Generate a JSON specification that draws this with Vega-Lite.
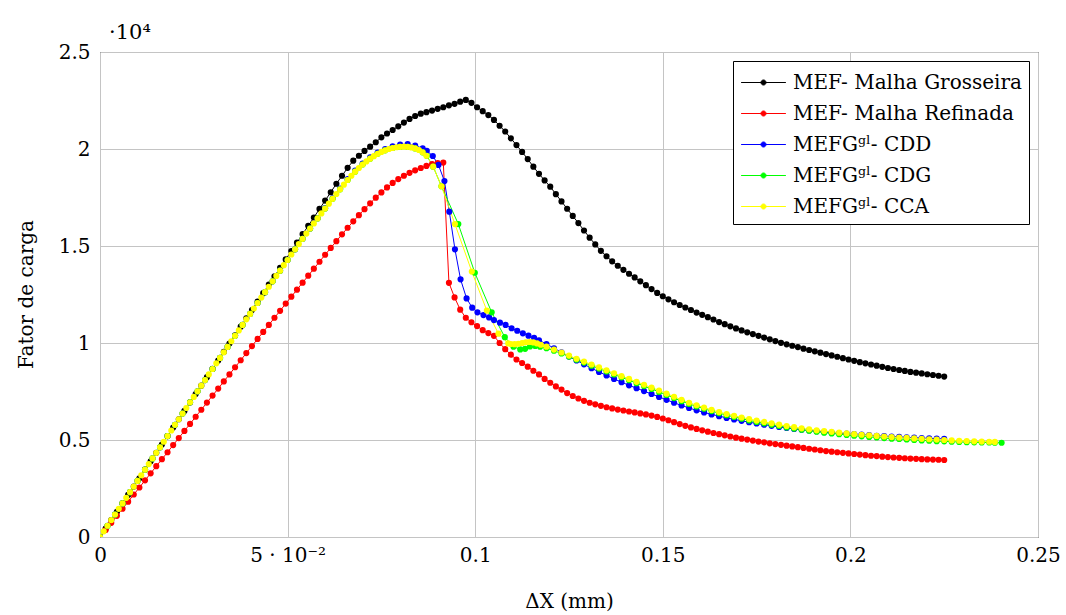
{
"$schema": "https://vega.github.io/schema/vega-lite/v6.json",
"width": 938, "height": 485,
"autosize": {"type": "none"},
"padding": {"left": 100, "top": 52, "right": 28, "bottom": 78},
"background": "white",
"title": {"text": "·10⁴", "anchor": "start", "frame": "group", "offset": -18, "dx": 9, "fontSize": 21, "fontWeight": "normal", "font": "DejaVu Serif", "baseline": "alphabetic", "color": "#000"},
"data": {"values": [
{"s":"g","x":0,"y":0},{"s":"g","x":0.0015,"y":0.043},{"s":"g","x":0.003,"y":0.087},{"s":"g","x":0.0045,"y":0.13},{"s":"g","x":0.006,"y":0.173},{"s":"g","x":0.0075,"y":0.217},{"s":"g","x":0.009,"y":0.26},{"s":"g","x":0.0105,"y":0.303},{"s":"g","x":0.012,"y":0.347},{"s":"g","x":0.0135,"y":0.39},{"s":"g","x":0.015,"y":0.434},{"s":"g","x":0.0165,"y":0.477},{"s":"g","x":0.018,"y":0.52},{"s":"g","x":0.0195,"y":0.564},{"s":"g","x":0.021,"y":0.607},{"s":"g","x":0.0225,"y":0.65},{"s":"g","x":0.024,"y":0.694},{"s":"g","x":0.0255,"y":0.737},{"s":"g","x":0.027,"y":0.78},{"s":"g","x":0.0285,"y":0.824},{"s":"g","x":0.03,"y":0.867},{"s":"g","x":0.0315,"y":0.91},{"s":"g","x":0.033,"y":0.954},{"s":"g","x":0.0345,"y":0.997},{"s":"g","x":0.036,"y":1.04},{"s":"g","x":0.0375,"y":1.084},{"s":"g","x":0.039,"y":1.127},{"s":"g","x":0.0405,"y":1.17},{"s":"g","x":0.042,"y":1.214},{"s":"g","x":0.0435,"y":1.257},{"s":"g","x":0.045,"y":1.301},{"s":"g","x":0.0465,"y":1.344},{"s":"g","x":0.048,"y":1.387},{"s":"g","x":0.0495,"y":1.431},{"s":"g","x":0.051,"y":1.474},{"s":"g","x":0.0525,"y":1.517},{"s":"g","x":0.054,"y":1.561},{"s":"g","x":0.0555,"y":1.604},{"s":"g","x":0.057,"y":1.647},{"s":"g","x":0.0585,"y":1.691},{"s":"g","x":0.06,"y":1.734},{"s":"g","x":0.0615,"y":1.777},{"s":"g","x":0.063,"y":1.821},{"s":"g","x":0.0645,"y":1.862},{"s":"g","x":0.066,"y":1.903},{"s":"g","x":0.0675,"y":1.94},{"s":"g","x":0.069,"y":1.965},{"s":"g","x":0.0705,"y":1.99},{"s":"g","x":0.072,"y":2.012},{"s":"g","x":0.0735,"y":2.035},{"s":"g","x":0.075,"y":2.06},{"s":"g","x":0.0765,"y":2.08},{"s":"g","x":0.078,"y":2.098},{"s":"g","x":0.0795,"y":2.117},{"s":"g","x":0.081,"y":2.136},{"s":"g","x":0.0825,"y":2.155},{"s":"g","x":0.084,"y":2.17},{"s":"g","x":0.0855,"y":2.182},{"s":"g","x":0.087,"y":2.19},{"s":"g","x":0.0885,"y":2.198},{"s":"g","x":0.09,"y":2.207},{"s":"g","x":0.0915,"y":2.215},{"s":"g","x":0.093,"y":2.225},{"s":"g","x":0.0945,"y":2.233},{"s":"g","x":0.096,"y":2.244},{"s":"g","x":0.0975,"y":2.253},{"s":"g","x":0.099,"y":2.238},{"s":"g","x":0.1005,"y":2.215},{"s":"g","x":0.102,"y":2.195},{"s":"g","x":0.1035,"y":2.175},{"s":"g","x":0.105,"y":2.15},{"s":"g","x":0.1065,"y":2.12},{"s":"g","x":0.108,"y":2.09},{"s":"g","x":0.1095,"y":2.055},{"s":"g","x":0.111,"y":2.02},{"s":"g","x":0.1125,"y":1.985},{"s":"g","x":0.114,"y":1.948},{"s":"g","x":0.1155,"y":1.909},{"s":"g","x":0.117,"y":1.872},{"s":"g","x":0.1185,"y":1.838},{"s":"g","x":0.12,"y":1.806},{"s":"g","x":0.1215,"y":1.767},{"s":"g","x":0.123,"y":1.73},{"s":"g","x":0.1245,"y":1.692},{"s":"g","x":0.126,"y":1.655},{"s":"g","x":0.1275,"y":1.618},{"s":"g","x":0.129,"y":1.58},{"s":"g","x":0.1305,"y":1.543},{"s":"g","x":0.132,"y":1.508},{"s":"g","x":0.1335,"y":1.475},{"s":"g","x":0.135,"y":1.447},{"s":"g","x":0.1365,"y":1.421},{"s":"g","x":0.138,"y":1.398},{"s":"g","x":0.1395,"y":1.377},{"s":"g","x":0.141,"y":1.357},{"s":"g","x":0.1425,"y":1.338},{"s":"g","x":0.144,"y":1.318},{"s":"g","x":0.1455,"y":1.298},{"s":"g","x":0.147,"y":1.278},{"s":"g","x":0.1485,"y":1.258},{"s":"g","x":0.15,"y":1.241},{"s":"g","x":0.1515,"y":1.225},{"s":"g","x":0.153,"y":1.21},{"s":"g","x":0.1545,"y":1.196},{"s":"g","x":0.156,"y":1.183},{"s":"g","x":0.1575,"y":1.17},{"s":"g","x":0.159,"y":1.157},{"s":"g","x":0.1605,"y":1.145},{"s":"g","x":0.162,"y":1.133},{"s":"g","x":0.1635,"y":1.121},{"s":"g","x":0.165,"y":1.108},{"s":"g","x":0.1665,"y":1.097},{"s":"g","x":0.168,"y":1.086},{"s":"g","x":0.1695,"y":1.075},{"s":"g","x":0.171,"y":1.065},{"s":"g","x":0.1725,"y":1.055},{"s":"g","x":0.174,"y":1.046},{"s":"g","x":0.1755,"y":1.037},{"s":"g","x":0.177,"y":1.028},{"s":"g","x":0.1785,"y":1.019},{"s":"g","x":0.18,"y":1.01},{"s":"g","x":0.1815,"y":1.001},{"s":"g","x":0.183,"y":0.993},{"s":"g","x":0.1845,"y":0.986},{"s":"g","x":0.186,"y":0.979},{"s":"g","x":0.1875,"y":0.971},{"s":"g","x":0.189,"y":0.964},{"s":"g","x":0.1905,"y":0.957},{"s":"g","x":0.192,"y":0.95},{"s":"g","x":0.1935,"y":0.943},{"s":"g","x":0.195,"y":0.936},{"s":"g","x":0.1965,"y":0.929},{"s":"g","x":0.198,"y":0.922},{"s":"g","x":0.1995,"y":0.915},{"s":"g","x":0.201,"y":0.908},{"s":"g","x":0.2025,"y":0.901},{"s":"g","x":0.204,"y":0.895},{"s":"g","x":0.2055,"y":0.889},{"s":"g","x":0.207,"y":0.883},{"s":"g","x":0.2085,"y":0.877},{"s":"g","x":0.21,"y":0.871},{"s":"g","x":0.2115,"y":0.866},{"s":"g","x":0.213,"y":0.861},{"s":"g","x":0.2145,"y":0.856},{"s":"g","x":0.216,"y":0.851},{"s":"g","x":0.2175,"y":0.847},{"s":"g","x":0.219,"y":0.843},{"s":"g","x":0.2205,"y":0.839},{"s":"g","x":0.222,"y":0.835},{"s":"g","x":0.2235,"y":0.831},{"s":"g","x":0.225,"y":0.827},
{"s":"r","x":0,"y":0},{"s":"r","x":0.0015,"y":0.036},{"s":"r","x":0.003,"y":0.073},{"s":"r","x":0.0045,"y":0.109},{"s":"r","x":0.006,"y":0.146},{"s":"r","x":0.0075,"y":0.182},{"s":"r","x":0.009,"y":0.219},{"s":"r","x":0.0105,"y":0.255},{"s":"r","x":0.012,"y":0.292},{"s":"r","x":0.0135,"y":0.328},{"s":"r","x":0.015,"y":0.365},{"s":"r","x":0.0165,"y":0.401},{"s":"r","x":0.018,"y":0.437},{"s":"r","x":0.0195,"y":0.474},{"s":"r","x":0.021,"y":0.51},{"s":"r","x":0.0225,"y":0.547},{"s":"r","x":0.024,"y":0.583},{"s":"r","x":0.0255,"y":0.62},{"s":"r","x":0.027,"y":0.656},{"s":"r","x":0.0285,"y":0.693},{"s":"r","x":0.03,"y":0.729},{"s":"r","x":0.0315,"y":0.765},{"s":"r","x":0.033,"y":0.802},{"s":"r","x":0.0345,"y":0.838},{"s":"r","x":0.036,"y":0.875},{"s":"r","x":0.0375,"y":0.911},{"s":"r","x":0.039,"y":0.948},{"s":"r","x":0.0405,"y":0.984},{"s":"r","x":0.042,"y":1.021},{"s":"r","x":0.0435,"y":1.057},{"s":"r","x":0.045,"y":1.093},{"s":"r","x":0.0465,"y":1.13},{"s":"r","x":0.048,"y":1.166},{"s":"r","x":0.0495,"y":1.203},{"s":"r","x":0.051,"y":1.239},{"s":"r","x":0.0525,"y":1.275},{"s":"r","x":0.054,"y":1.311},{"s":"r","x":0.0555,"y":1.347},{"s":"r","x":0.057,"y":1.383},{"s":"r","x":0.0585,"y":1.419},{"s":"r","x":0.06,"y":1.455},{"s":"r","x":0.0615,"y":1.49},{"s":"r","x":0.063,"y":1.525},{"s":"r","x":0.0645,"y":1.56},{"s":"r","x":0.066,"y":1.594},{"s":"r","x":0.0675,"y":1.627},{"s":"r","x":0.069,"y":1.659},{"s":"r","x":0.0705,"y":1.69},{"s":"r","x":0.072,"y":1.72},{"s":"r","x":0.0735,"y":1.749},{"s":"r","x":0.075,"y":1.776},{"s":"r","x":0.0765,"y":1.802},{"s":"r","x":0.078,"y":1.825},{"s":"r","x":0.0795,"y":1.845},{"s":"r","x":0.081,"y":1.862},{"s":"r","x":0.0825,"y":1.877},{"s":"r","x":0.084,"y":1.89},{"s":"r","x":0.0855,"y":1.902},{"s":"r","x":0.087,"y":1.913},{"s":"r","x":0.0885,"y":1.922},{"s":"r","x":0.09,"y":1.928},{"s":"r","x":0.0915,"y":1.93},{"s":"r","x":0.093,"y":1.31},{"s":"r","x":0.0945,"y":1.235},{"s":"r","x":0.096,"y":1.172},{"s":"r","x":0.0975,"y":1.13},{"s":"r","x":0.099,"y":1.107},{"s":"r","x":0.1005,"y":1.087},{"s":"r","x":0.102,"y":1.066},{"s":"r","x":0.1035,"y":1.051},{"s":"r","x":0.105,"y":1.037},{"s":"r","x":0.1065,"y":1.0},{"s":"r","x":0.108,"y":0.968},{"s":"r","x":0.1095,"y":0.94},{"s":"r","x":0.111,"y":0.915},{"s":"r","x":0.1125,"y":0.897},{"s":"r","x":0.114,"y":0.878},{"s":"r","x":0.1155,"y":0.857},{"s":"r","x":0.117,"y":0.838},{"s":"r","x":0.1185,"y":0.815},{"s":"r","x":0.12,"y":0.795},{"s":"r","x":0.1215,"y":0.776},{"s":"r","x":0.123,"y":0.76},{"s":"r","x":0.1245,"y":0.742},{"s":"r","x":0.126,"y":0.727},{"s":"r","x":0.1275,"y":0.714},{"s":"r","x":0.129,"y":0.702},{"s":"r","x":0.1305,"y":0.692},{"s":"r","x":0.132,"y":0.684},{"s":"r","x":0.1335,"y":0.676},{"s":"r","x":0.135,"y":0.669},{"s":"r","x":0.1365,"y":0.663},{"s":"r","x":0.138,"y":0.657},{"s":"r","x":0.1395,"y":0.652},{"s":"r","x":0.141,"y":0.647},{"s":"r","x":0.1425,"y":0.642},{"s":"r","x":0.144,"y":0.637},{"s":"r","x":0.1455,"y":0.632},{"s":"r","x":0.147,"y":0.626},{"s":"r","x":0.1485,"y":0.619},{"s":"r","x":0.15,"y":0.611},{"s":"r","x":0.1515,"y":0.602},{"s":"r","x":0.153,"y":0.592},{"s":"r","x":0.1545,"y":0.582},{"s":"r","x":0.156,"y":0.573},{"s":"r","x":0.1575,"y":0.565},{"s":"r","x":0.159,"y":0.557},{"s":"r","x":0.1605,"y":0.55},{"s":"r","x":0.162,"y":0.543},{"s":"r","x":0.1635,"y":0.536},{"s":"r","x":0.165,"y":0.53},{"s":"r","x":0.1665,"y":0.524},{"s":"r","x":0.168,"y":0.518},{"s":"r","x":0.1695,"y":0.512},{"s":"r","x":0.171,"y":0.507},{"s":"r","x":0.1725,"y":0.502},{"s":"r","x":0.174,"y":0.497},{"s":"r","x":0.1755,"y":0.492},{"s":"r","x":0.177,"y":0.488},{"s":"r","x":0.1785,"y":0.483},{"s":"r","x":0.18,"y":0.479},{"s":"r","x":0.1815,"y":0.475},{"s":"r","x":0.183,"y":0.471},{"s":"r","x":0.1845,"y":0.467},{"s":"r","x":0.186,"y":0.463},{"s":"r","x":0.1875,"y":0.459},{"s":"r","x":0.189,"y":0.455},{"s":"r","x":0.1905,"y":0.451},{"s":"r","x":0.192,"y":0.447},{"s":"r","x":0.1935,"y":0.443},{"s":"r","x":0.195,"y":0.44},{"s":"r","x":0.1965,"y":0.437},{"s":"r","x":0.198,"y":0.434},{"s":"r","x":0.1995,"y":0.431},{"s":"r","x":0.201,"y":0.428},{"s":"r","x":0.2025,"y":0.425},{"s":"r","x":0.204,"y":0.422},{"s":"r","x":0.2055,"y":0.419},{"s":"r","x":0.207,"y":0.417},{"s":"r","x":0.2085,"y":0.414},{"s":"r","x":0.21,"y":0.412},{"s":"r","x":0.2115,"y":0.41},{"s":"r","x":0.213,"y":0.408},{"s":"r","x":0.2145,"y":0.406},{"s":"r","x":0.216,"y":0.404},{"s":"r","x":0.2175,"y":0.403},{"s":"r","x":0.219,"y":0.401},{"s":"r","x":0.2205,"y":0.4},{"s":"r","x":0.222,"y":0.399},{"s":"r","x":0.2235,"y":0.398},{"s":"r","x":0.225,"y":0.397},
{"s":"d","x":0,"y":0},{"s":"d","x":0.002,"y":0.058},{"s":"d","x":0.004,"y":0.116},{"s":"d","x":0.006,"y":0.173},{"s":"d","x":0.008,"y":0.231},{"s":"d","x":0.01,"y":0.289},{"s":"d","x":0.012,"y":0.347},{"s":"d","x":0.014,"y":0.405},{"s":"d","x":0.016,"y":0.462},{"s":"d","x":0.018,"y":0.52},{"s":"d","x":0.02,"y":0.578},{"s":"d","x":0.022,"y":0.636},{"s":"d","x":0.024,"y":0.694},{"s":"d","x":0.026,"y":0.751},{"s":"d","x":0.028,"y":0.809},{"s":"d","x":0.03,"y":0.866},{"s":"d","x":0.032,"y":0.923},{"s":"d","x":0.034,"y":0.98},{"s":"d","x":0.036,"y":1.037},{"s":"d","x":0.038,"y":1.093},{"s":"d","x":0.04,"y":1.15},{"s":"d","x":0.042,"y":1.206},{"s":"d","x":0.044,"y":1.262},{"s":"d","x":0.046,"y":1.318},{"s":"d","x":0.048,"y":1.373},{"s":"d","x":0.05,"y":1.428},{"s":"d","x":0.052,"y":1.483},{"s":"d","x":0.054,"y":1.537},{"s":"d","x":0.056,"y":1.59},{"s":"d","x":0.058,"y":1.643},{"s":"d","x":0.06,"y":1.695},{"s":"d","x":0.062,"y":1.746},{"s":"d","x":0.064,"y":1.796},{"s":"d","x":0.066,"y":1.845},{"s":"d","x":0.068,"y":1.889},{"s":"d","x":0.07,"y":1.925},{"s":"d","x":0.072,"y":1.957},{"s":"d","x":0.074,"y":1.982},{"s":"d","x":0.076,"y":2.0},{"s":"d","x":0.078,"y":2.014},{"s":"d","x":0.08,"y":2.023},{"s":"d","x":0.082,"y":2.025},{"s":"d","x":0.084,"y":2.018},{"s":"d","x":0.086,"y":2.003},{"s":"d","x":0.0871,"y":1.991},{"s":"d","x":0.0887,"y":1.964},{"s":"d","x":0.0902,"y":1.918},{"s":"d","x":0.0918,"y":1.835},{"s":"d","x":0.0931,"y":1.677},{"s":"d","x":0.0946,"y":1.483},{"s":"d","x":0.0961,"y":1.328},{"s":"d","x":0.0977,"y":1.23},{"s":"d","x":0.0992,"y":1.182},{"s":"d","x":0.1006,"y":1.158},{"s":"d","x":0.1022,"y":1.144},{"s":"d","x":0.1037,"y":1.132},{"s":"d","x":0.105,"y":1.118},{"s":"d","x":0.1066,"y":1.105},{"s":"d","x":0.1081,"y":1.093},{"s":"d","x":0.1097,"y":1.076},{"s":"d","x":0.1112,"y":1.063},{"s":"d","x":0.1127,"y":1.05},{"s":"d","x":0.1142,"y":1.038},{"s":"d","x":0.1157,"y":1.026},{"s":"d","x":0.117,"y":1.014},{"s":"d","x":0.119,"y":0.995},{"s":"d","x":0.121,"y":0.973},{"s":"d","x":0.123,"y":0.952},{"s":"d","x":0.125,"y":0.93},{"s":"d","x":0.127,"y":0.91},{"s":"d","x":0.129,"y":0.89},{"s":"d","x":0.131,"y":0.87},{"s":"d","x":0.133,"y":0.851},{"s":"d","x":0.135,"y":0.833},{"s":"d","x":0.137,"y":0.815},{"s":"d","x":0.139,"y":0.798},{"s":"d","x":0.141,"y":0.782},{"s":"d","x":0.143,"y":0.767},{"s":"d","x":0.145,"y":0.752},{"s":"d","x":0.147,"y":0.737},{"s":"d","x":0.149,"y":0.722},{"s":"d","x":0.151,"y":0.707},{"s":"d","x":0.153,"y":0.692},{"s":"d","x":0.155,"y":0.678},{"s":"d","x":0.157,"y":0.665},{"s":"d","x":0.159,"y":0.653},{"s":"d","x":0.161,"y":0.642},{"s":"d","x":0.163,"y":0.632},{"s":"d","x":0.165,"y":0.623},{"s":"d","x":0.167,"y":0.614},{"s":"d","x":0.169,"y":0.606},{"s":"d","x":0.171,"y":0.599},{"s":"d","x":0.173,"y":0.592},{"s":"d","x":0.175,"y":0.585},{"s":"d","x":0.177,"y":0.579},{"s":"d","x":0.179,"y":0.573},{"s":"d","x":0.181,"y":0.567},{"s":"d","x":0.183,"y":0.562},{"s":"d","x":0.185,"y":0.557},{"s":"d","x":0.187,"y":0.553},{"s":"d","x":0.189,"y":0.549},{"s":"d","x":0.191,"y":0.545},{"s":"d","x":0.193,"y":0.541},{"s":"d","x":0.195,"y":0.538},{"s":"d","x":0.197,"y":0.535},{"s":"d","x":0.199,"y":0.533},{"s":"d","x":0.201,"y":0.531},{"s":"d","x":0.203,"y":0.528},{"s":"d","x":0.205,"y":0.525},{"s":"d","x":0.207,"y":0.522},{"s":"d","x":0.209,"y":0.52},{"s":"d","x":0.211,"y":0.518},{"s":"d","x":0.213,"y":0.516},{"s":"d","x":0.215,"y":0.514},{"s":"d","x":0.217,"y":0.512},{"s":"d","x":0.219,"y":0.51},{"s":"d","x":0.221,"y":0.509},{"s":"d","x":0.223,"y":0.507},{"s":"d","x":0.225,"y":0.506},
{"s":"c","x":0,"y":0},{"s":"c","x":0.002,"y":0.058},{"s":"c","x":0.004,"y":0.116},{"s":"c","x":0.006,"y":0.173},{"s":"c","x":0.008,"y":0.231},{"s":"c","x":0.01,"y":0.289},{"s":"c","x":0.012,"y":0.347},{"s":"c","x":0.014,"y":0.405},{"s":"c","x":0.016,"y":0.462},{"s":"c","x":0.018,"y":0.52},{"s":"c","x":0.02,"y":0.578},{"s":"c","x":0.022,"y":0.636},{"s":"c","x":0.024,"y":0.694},{"s":"c","x":0.026,"y":0.751},{"s":"c","x":0.028,"y":0.809},{"s":"c","x":0.03,"y":0.866},{"s":"c","x":0.032,"y":0.923},{"s":"c","x":0.034,"y":0.98},{"s":"c","x":0.036,"y":1.037},{"s":"c","x":0.038,"y":1.093},{"s":"c","x":0.04,"y":1.15},{"s":"c","x":0.042,"y":1.206},{"s":"c","x":0.044,"y":1.262},{"s":"c","x":0.046,"y":1.318},{"s":"c","x":0.048,"y":1.373},{"s":"c","x":0.05,"y":1.428},{"s":"c","x":0.052,"y":1.483},{"s":"c","x":0.054,"y":1.537},{"s":"c","x":0.056,"y":1.59},{"s":"c","x":0.058,"y":1.642},{"s":"c","x":0.06,"y":1.693},{"s":"c","x":0.062,"y":1.743},{"s":"c","x":0.064,"y":1.792},{"s":"c","x":0.066,"y":1.84},{"s":"c","x":0.068,"y":1.883},{"s":"c","x":0.07,"y":1.92},{"s":"c","x":0.072,"y":1.95},{"s":"c","x":0.074,"y":1.975},{"s":"c","x":0.076,"y":1.993},{"s":"c","x":0.078,"y":2.005},{"s":"c","x":0.08,"y":2.011},{"s":"c","x":0.082,"y":2.011},{"s":"c","x":0.084,"y":2.003},{"s":"c","x":0.086,"y":1.983},{"s":"c","x":0.0871,"y":1.965},{"s":"c","x":0.0888,"y":1.909},{"s":"c","x":0.091,"y":1.808},{"s":"c","x":0.0955,"y":1.613},{"s":"c","x":0.0999,"y":1.362},{"s":"c","x":0.1044,"y":1.158},{"s":"c","x":0.1079,"y":1.03},{"s":"c","x":0.1102,"y":0.981},{"s":"c","x":0.112,"y":0.967},{"s":"c","x":0.1133,"y":0.97},{"s":"c","x":0.1146,"y":0.982},{"s":"c","x":0.116,"y":0.985},{"s":"c","x":0.1173,"y":0.981},{"s":"c","x":0.119,"y":0.973},{"s":"c","x":0.121,"y":0.96},{"s":"c","x":0.123,"y":0.946},{"s":"c","x":0.125,"y":0.93},{"s":"c","x":0.127,"y":0.914},{"s":"c","x":0.129,"y":0.899},{"s":"c","x":0.131,"y":0.883},{"s":"c","x":0.133,"y":0.868},{"s":"c","x":0.135,"y":0.853},{"s":"c","x":0.137,"y":0.838},{"s":"c","x":0.139,"y":0.823},{"s":"c","x":0.141,"y":0.808},{"s":"c","x":0.143,"y":0.793},{"s":"c","x":0.145,"y":0.778},{"s":"c","x":0.147,"y":0.763},{"s":"c","x":0.149,"y":0.748},{"s":"c","x":0.151,"y":0.732},{"s":"c","x":0.153,"y":0.716},{"s":"c","x":0.155,"y":0.7},{"s":"c","x":0.157,"y":0.686},{"s":"c","x":0.159,"y":0.673},{"s":"c","x":0.161,"y":0.661},{"s":"c","x":0.163,"y":0.649},{"s":"c","x":0.165,"y":0.638},{"s":"c","x":0.167,"y":0.628},{"s":"c","x":0.169,"y":0.619},{"s":"c","x":0.171,"y":0.61},{"s":"c","x":0.173,"y":0.601},{"s":"c","x":0.175,"y":0.593},{"s":"c","x":0.177,"y":0.586},{"s":"c","x":0.179,"y":0.579},{"s":"c","x":0.181,"y":0.572},{"s":"c","x":0.183,"y":0.565},{"s":"c","x":0.185,"y":0.559},{"s":"c","x":0.187,"y":0.553},{"s":"c","x":0.189,"y":0.548},{"s":"c","x":0.191,"y":0.543},{"s":"c","x":0.193,"y":0.538},{"s":"c","x":0.195,"y":0.534},{"s":"c","x":0.197,"y":0.53},{"s":"c","x":0.199,"y":0.526},{"s":"c","x":0.201,"y":0.522},{"s":"c","x":0.203,"y":0.519},{"s":"c","x":0.205,"y":0.516},{"s":"c","x":0.207,"y":0.513},{"s":"c","x":0.209,"y":0.51},{"s":"c","x":0.211,"y":0.507},{"s":"c","x":0.213,"y":0.505},{"s":"c","x":0.215,"y":0.503},{"s":"c","x":0.217,"y":0.5},{"s":"c","x":0.219,"y":0.498},{"s":"c","x":0.221,"y":0.496},{"s":"c","x":0.223,"y":0.494},{"s":"c","x":0.225,"y":0.493},{"s":"c","x":0.227,"y":0.491},{"s":"c","x":0.229,"y":0.49},{"s":"c","x":0.231,"y":0.489},{"s":"c","x":0.233,"y":0.488},{"s":"c","x":0.235,"y":0.487},{"s":"c","x":0.237,"y":0.487},{"s":"c","x":0.2385,"y":0.486},{"s":"c","x":0.2403,"y":0.486},
{"s":"a","x":0,"y":0},{"s":"a","x":0.001,"y":0.029},{"s":"a","x":0.002,"y":0.058},{"s":"a","x":0.003,"y":0.087},{"s":"a","x":0.004,"y":0.116},{"s":"a","x":0.005,"y":0.145},{"s":"a","x":0.006,"y":0.173},{"s":"a","x":0.007,"y":0.202},{"s":"a","x":0.008,"y":0.231},{"s":"a","x":0.009,"y":0.26},{"s":"a","x":0.01,"y":0.289},{"s":"a","x":0.011,"y":0.318},{"s":"a","x":0.012,"y":0.347},{"s":"a","x":0.013,"y":0.376},{"s":"a","x":0.014,"y":0.405},{"s":"a","x":0.015,"y":0.434},{"s":"a","x":0.016,"y":0.462},{"s":"a","x":0.017,"y":0.491},{"s":"a","x":0.018,"y":0.52},{"s":"a","x":0.019,"y":0.549},{"s":"a","x":0.02,"y":0.578},{"s":"a","x":0.021,"y":0.607},{"s":"a","x":0.022,"y":0.636},{"s":"a","x":0.023,"y":0.665},{"s":"a","x":0.024,"y":0.694},{"s":"a","x":0.025,"y":0.722},{"s":"a","x":0.026,"y":0.751},{"s":"a","x":0.027,"y":0.78},{"s":"a","x":0.028,"y":0.809},{"s":"a","x":0.029,"y":0.838},{"s":"a","x":0.03,"y":0.866},{"s":"a","x":0.031,"y":0.895},{"s":"a","x":0.032,"y":0.923},{"s":"a","x":0.033,"y":0.952},{"s":"a","x":0.034,"y":0.98},{"s":"a","x":0.035,"y":1.009},{"s":"a","x":0.036,"y":1.037},{"s":"a","x":0.037,"y":1.065},{"s":"a","x":0.038,"y":1.093},{"s":"a","x":0.039,"y":1.122},{"s":"a","x":0.04,"y":1.15},{"s":"a","x":0.041,"y":1.178},{"s":"a","x":0.042,"y":1.206},{"s":"a","x":0.043,"y":1.234},{"s":"a","x":0.044,"y":1.262},{"s":"a","x":0.045,"y":1.29},{"s":"a","x":0.046,"y":1.318},{"s":"a","x":0.047,"y":1.346},{"s":"a","x":0.048,"y":1.373},{"s":"a","x":0.049,"y":1.401},{"s":"a","x":0.05,"y":1.428},{"s":"a","x":0.051,"y":1.456},{"s":"a","x":0.052,"y":1.483},{"s":"a","x":0.053,"y":1.51},{"s":"a","x":0.054,"y":1.537},{"s":"a","x":0.055,"y":1.564},{"s":"a","x":0.056,"y":1.59},{"s":"a","x":0.057,"y":1.616},{"s":"a","x":0.058,"y":1.642},{"s":"a","x":0.059,"y":1.668},{"s":"a","x":0.06,"y":1.693},{"s":"a","x":0.061,"y":1.718},{"s":"a","x":0.062,"y":1.743},{"s":"a","x":0.063,"y":1.768},{"s":"a","x":0.064,"y":1.792},{"s":"a","x":0.065,"y":1.816},{"s":"a","x":0.066,"y":1.84},{"s":"a","x":0.067,"y":1.862},{"s":"a","x":0.068,"y":1.883},{"s":"a","x":0.069,"y":1.902},{"s":"a","x":0.07,"y":1.92},{"s":"a","x":0.071,"y":1.936},{"s":"a","x":0.072,"y":1.95},{"s":"a","x":0.073,"y":1.963},{"s":"a","x":0.074,"y":1.975},{"s":"a","x":0.075,"y":1.985},{"s":"a","x":0.076,"y":1.993},{"s":"a","x":0.077,"y":2.0},{"s":"a","x":0.078,"y":2.005},{"s":"a","x":0.079,"y":2.009},{"s":"a","x":0.08,"y":2.011},{"s":"a","x":0.081,"y":2.012},{"s":"a","x":0.082,"y":2.011},{"s":"a","x":0.083,"y":2.008},{"s":"a","x":0.084,"y":2.003},{"s":"a","x":0.085,"y":1.995},{"s":"a","x":0.086,"y":1.983},{"s":"a","x":0.087,"y":1.965},{"s":"a","x":0.0888,"y":1.909},{"s":"a","x":0.091,"y":1.808},{"s":"a","x":0.0946,"y":1.613},{"s":"a","x":0.0991,"y":1.368},{"s":"a","x":0.1031,"y":1.167},{"s":"a","x":0.1062,"y":1.048},{"s":"a","x":0.1088,"y":0.998},{"s":"a","x":0.1095,"y":0.995},{"s":"a","x":0.1105,"y":0.994},{"s":"a","x":0.1115,"y":0.996},{"s":"a","x":0.1125,"y":1.0},{"s":"a","x":0.1135,"y":1.004},{"s":"a","x":0.1145,"y":1.005},{"s":"a","x":0.1155,"y":1.003},{"s":"a","x":0.1165,"y":0.998},{"s":"a","x":0.1175,"y":0.991},{"s":"a","x":0.119,"y":0.981},{"s":"a","x":0.121,"y":0.966},{"s":"a","x":0.123,"y":0.951},{"s":"a","x":0.125,"y":0.935},{"s":"a","x":0.127,"y":0.919},{"s":"a","x":0.129,"y":0.904},{"s":"a","x":0.131,"y":0.889},{"s":"a","x":0.133,"y":0.874},{"s":"a","x":0.135,"y":0.859},{"s":"a","x":0.137,"y":0.844},{"s":"a","x":0.139,"y":0.829},{"s":"a","x":0.141,"y":0.815},{"s":"a","x":0.143,"y":0.8},{"s":"a","x":0.145,"y":0.785},{"s":"a","x":0.147,"y":0.77},{"s":"a","x":0.149,"y":0.755},{"s":"a","x":0.151,"y":0.739},{"s":"a","x":0.153,"y":0.723},{"s":"a","x":0.155,"y":0.707},{"s":"a","x":0.157,"y":0.692},{"s":"a","x":0.159,"y":0.679},{"s":"a","x":0.161,"y":0.667},{"s":"a","x":0.163,"y":0.655},{"s":"a","x":0.165,"y":0.644},{"s":"a","x":0.167,"y":0.634},{"s":"a","x":0.169,"y":0.625},{"s":"a","x":0.171,"y":0.616},{"s":"a","x":0.173,"y":0.608},{"s":"a","x":0.175,"y":0.6},{"s":"a","x":0.177,"y":0.593},{"s":"a","x":0.179,"y":0.586},{"s":"a","x":0.181,"y":0.579},{"s":"a","x":0.183,"y":0.572},{"s":"a","x":0.185,"y":0.566},{"s":"a","x":0.187,"y":0.56},{"s":"a","x":0.189,"y":0.555},{"s":"a","x":0.191,"y":0.55},{"s":"a","x":0.193,"y":0.546},{"s":"a","x":0.195,"y":0.542},{"s":"a","x":0.197,"y":0.538},{"s":"a","x":0.199,"y":0.534},{"s":"a","x":0.201,"y":0.53},{"s":"a","x":0.203,"y":0.527},{"s":"a","x":0.205,"y":0.524},{"s":"a","x":0.207,"y":0.521},{"s":"a","x":0.209,"y":0.518},{"s":"a","x":0.211,"y":0.515},{"s":"a","x":0.213,"y":0.513},{"s":"a","x":0.215,"y":0.511},{"s":"a","x":0.217,"y":0.508},{"s":"a","x":0.219,"y":0.506},{"s":"a","x":0.221,"y":0.504},{"s":"a","x":0.223,"y":0.502},{"s":"a","x":0.225,"y":0.5},{"s":"a","x":0.227,"y":0.498},{"s":"a","x":0.229,"y":0.496},{"s":"a","x":0.231,"y":0.495},{"s":"a","x":0.233,"y":0.493},{"s":"a","x":0.235,"y":0.492},{"s":"a","x":0.237,"y":0.491},{"s":"a","x":0.2385,"y":0.49}
]},
"mark": {"type": "line", "strokeWidth": 1, "clip": true, "point": {"filled": true, "size": 38, "strokeWidth": 0}},
"encoding": {
"x": {"field": "x", "type": "quantitative", "scale": {"domain": [0, 0.25], "nice": false, "zero": false},
 "axis": {"values": [0, 0.05, 0.1, 0.15, 0.2, 0.25], "format": "~g", "labelExpr": "datum.value > 0.04 && datum.value < 0.06 ? '5 · 10⁻²' : datum.label", "labelPadding": 8, "title": "ΔX (mm)", "titleY": 70, "titleBaseline": "alphabetic", "labelFlush": false}},
"y": {"field": "y", "type": "quantitative", "scale": {"domain": [0, 2.5], "nice": false},
 "axis": {"values": [0, 0.5, 1, 1.5, 2, 2.5], "format": "~g", "labelPadding": 10, "title": "Fator de carga", "titleX": -68, "titleY": 242, "titleAngle": -90, "titleBaseline": "alphabetic", "titleAlign": "center", "labelFlush": false}},
"color": {"field": "s", "type": "nominal", "scale": {"domain": ["g", "r", "d", "c", "a"], "range": ["#000000", "#ff0000", "#0000ff", "#00ff00", "#ffff00"]},
 "legend": {"title": null, "orient": "top-right", "offset": 9, "padding": 7, "strokeColor": "#000000", "fillColor": "#ffffff", "cornerRadius": 0, "labelFont": "DejaVu Serif", "labelFontSize": 20, "labelColor": "#000", "labelLimit": 0, "rowPadding": 6, "symbolOffset": 9, "labelOffset": 15,
  "labelExpr": "datum.label == 'g' ? 'MEF- Malha Grosseira' : datum.label == 'r' ? 'MEF- Malha Refinada' : datum.label == 'd' ? 'MEFGᵍˡ- CDD' : datum.label == 'c' ? 'MEFGᵍˡ- CDG' : 'MEFGᵍˡ- CCA'",
  "encode": {"symbols": {"update": {"fill": {"scale": "color", "field": "value"}, "stroke": {"scale": "color", "field": "value"}, "shape": {"value": "M-1.6,0H1.6M-0.18,0A0.18,0.18,0,1,1,0.18,0A0.18,0.18,0,1,1,-0.18,0Z"}, "size": {"value": 784}, "strokeWidth": {"value": 1}, "opacity": {"value": 1}}}}}}
},
"config": {
"font": "DejaVu Serif",
"view": {"stroke": "#000000", "strokeWidth": 1},
"axis": {"domain": false, "ticks": false, "grid": true, "gridColor": "#c4c4c4", "gridWidth": 1, "labelFont": "DejaVu Serif", "labelFontSize": 20, "labelColor": "#000000", "titleFont": "DejaVu Serif", "titleFontSize": 20, "titleFontWeight": "normal", "titleColor": "#000000"}
}
}
